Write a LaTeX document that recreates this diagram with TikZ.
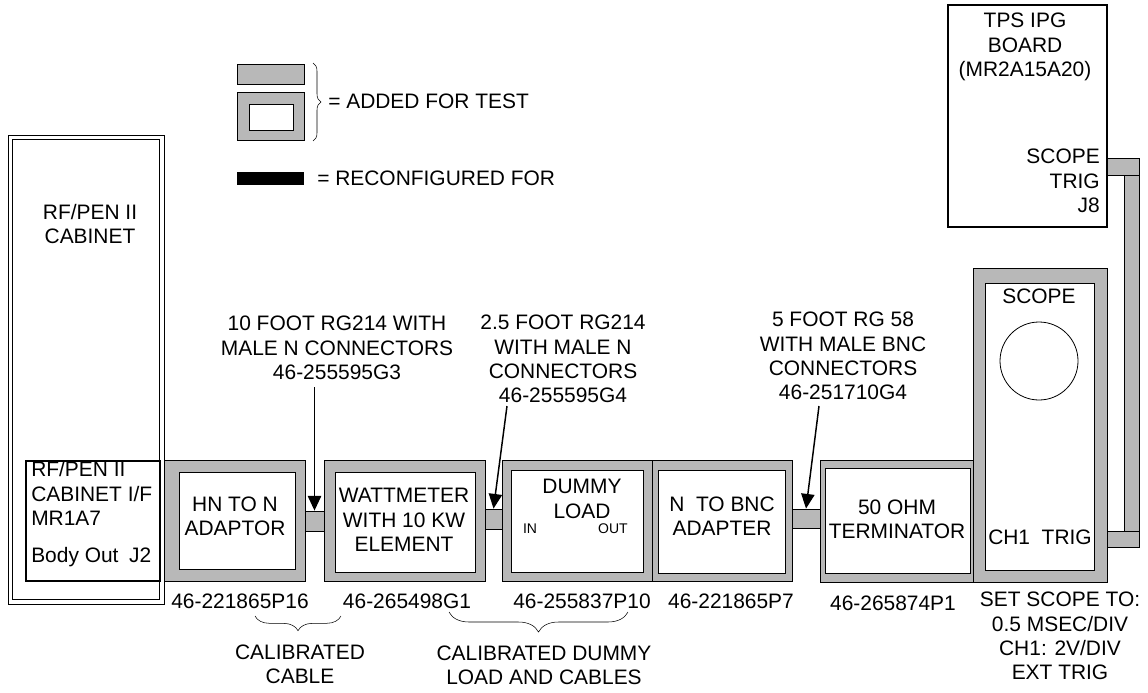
\documentclass[tikz,border=0pt]{standalone}
\usepackage{fontspec}
\setmainfont{Liberation Sans}
\usetikzlibrary{arrows.meta,decorations.pathreplacing}
\definecolor{hatch}{HTML}{B8B8B8}
\newcommand{\lbsize}{\fontsize{15.7}{18.3}\selectfont}
\newcommand{\tinysize}{\fontsize{10.5}{12}\selectfont}

\begin{document}
\begin{tikzpicture}[x=0.75pt,y=-0.75pt,>={Triangle[width=10pt,length=11pt]},
    added/.style={draw,fill=hatch,line width=0.6pt},
    panel/.style={draw,fill=white,line width=0.6pt},
    cable/.style={added,inner sep=0pt},
    txt/.style={font=\lbsize,align=center,inner sep=0pt},
    small/.style={font=\tinysize,inner sep=0pt},
    heavy/.style={draw,line width=1.5pt}]
    \useasboundingbox (0,0) rectangle (1148,692);

    % legend
    \draw[added] (237,64) rectangle (304,84);
    \draw[added] (237,92) rectangle (304,140);
    \draw[panel] (249,104) rectangle (293,130);
    \draw[decorate,decoration={brace,amplitude=6pt}] (313,63) -- (313,141);
    \node[txt,anchor=west] (addtxt) at (328,101) {= ADDED FOR TEST};
    \fill (237,172) rectangle (304,185);
    \node[txt,anchor=west] (recontxt) at (317,178) {= RECONFIGURED FOR};

    % cabinet
    \draw[line width=0.6pt] (8,135) rectangle (164,604);
    \draw[line width=0.6pt] (12,139) rectangle (159,599);
    \node[txt] (cab) at (90,224) {RF/PEN II\\CABINET};
    \draw[heavy,fill=white] (26,461) rectangle (160,581);
    \node[txt,align=left,anchor=west] (cabif) at (31,514)
        {RF/PEN II\\CABINET I/F\\MR1A7\\[9pt]Body Out\hspace{8pt}J2};

    % test set-up
    \draw[added] (164,460) rectangle (305,581);
    \draw[panel] (179,472) rectangle (295,569);
    \node[txt] (hn) at (235,516) {HN TO N\\ADAPTOR};

    \draw[added] (324,460) rectangle (485,581);
    \draw[panel] (335,472) rectangle (475,572);
    \node[txt] (watt) at (404,520) {WATTMETER\\WITH 10 KW\\ELEMENT};

    \draw[added] (502,460) rectangle (652,581);
    \draw[panel] (511,470) rectangle (643,572);
    \node[txt] (dummy) at (582,499) {DUMMY\\LOAD};
    \node[small] (din) at (530,529) {IN};
    \node[small] (dout) at (613,529) {OUT};

    \draw[added] (652,460) rectangle (792,581);
    \draw[panel] (658,470) rectangle (785,573);
    \node[txt] (nbnc) at (722,516) {N\ \ TO BNC\\ADAPTER};

    \draw[added] (820,460) rectangle (973,582);
    \draw[panel] (825,468) rectangle (970,573);
    \node[txt] (term) at (897,519) {50 OHM\\TERMINATOR};

    % scope and trigger
    \draw[added] (973,268) rectangle (1107,582);
    \draw[panel] (985,283) rectangle (1094,570);
    \node[txt] (scope) at (1039,296) {SCOPE};
    \draw[line width=0.6pt] (1039,361) circle[radius=29.25pt];
    \node[txt] (ch) at (1040,537) {CH1\ \ TRIG};

    \draw[added] (1107,158) rectangle (1139,175);
    \draw[added] (1124,175) rectangle (1139,531);
    \draw[added] (1107,531) rectangle (1139,547);

    \draw[heavy,fill=white] (948,5) rectangle (1107,227);
    \node[txt] (tps) at (1025,47) {TPS IPG\\BOARD\\(MR2A15A20)};
    \node[txt,align=right,anchor=east] (j8) at (1100,181) {SCOPE\\TRIG\\J8};

    % cables
    \node[cable,minimum width=14.25pt,minimum height=15pt] (c1) at (314.5,521) {};
    \node[cable,minimum width=12.75pt,minimum height=15pt] (c2) at (493.5,519) {};
    \node[cable,minimum width=21pt,minimum height=14.25pt] (c3) at (806,518.5) {};

    \node[txt] (lab1) at (337,348) {10 FOOT RG214 WITH\\MALE N CONNECTORS\\46-255595G3};
    \node[txt] (lab2) at (563,359) {2.5 FOOT RG214\\WITH MALE N\\CONNECTORS\\46-255595G4};
    \node[txt] (lab3) at (843,356) {5 FOOT RG 58\\WITH MALE BNC\\CONNECTORS\\46-251710G4};
    \coordinate (p1) at (314.5,387);
    \coordinate (p2) at (507,406);
    \coordinate (p3) at (819,406);
    \draw[->,line width=1.1pt] (p1) -- (c1.north);
    \draw[->,line width=1.1pt] (p2) -- (c2.north);
    \draw[->,line width=1.1pt] (p3) -- (c3.north);

    % part numbers
    \node[txt] (pn1) at (240,601) {46-221865P16};
    \node[txt] (pn2) at (407,601) {46-265498G1};
    \node[txt] (pn3) at (582,601) {46-255837P10};
    \node[txt] (pn4) at (731,601) {46-221865P7};
    \node[txt] (pn5) at (893,603) {46-265874P1};
    \node[txt] (set) at (1060,636) {SET SCOPE TO:\\0.5 MSEC/DIV\\CH1: 2V/DIV\\EXT TRIG};

    \draw[decorate,decoration={brace,mirror,amplitude=11pt}] (255,616) -- (341,616);
    \node[txt] (calcab) at (300,664) {CALIBRATED\\CABLE};
    \draw[decorate,decoration={brace,mirror,amplitude=15pt}] (449,612) -- (628,612);
    \node[txt] (caldum) at (544,665) {CALIBRATED DUMMY\\LOAD AND CABLES};
\end{tikzpicture}
\end{document}
